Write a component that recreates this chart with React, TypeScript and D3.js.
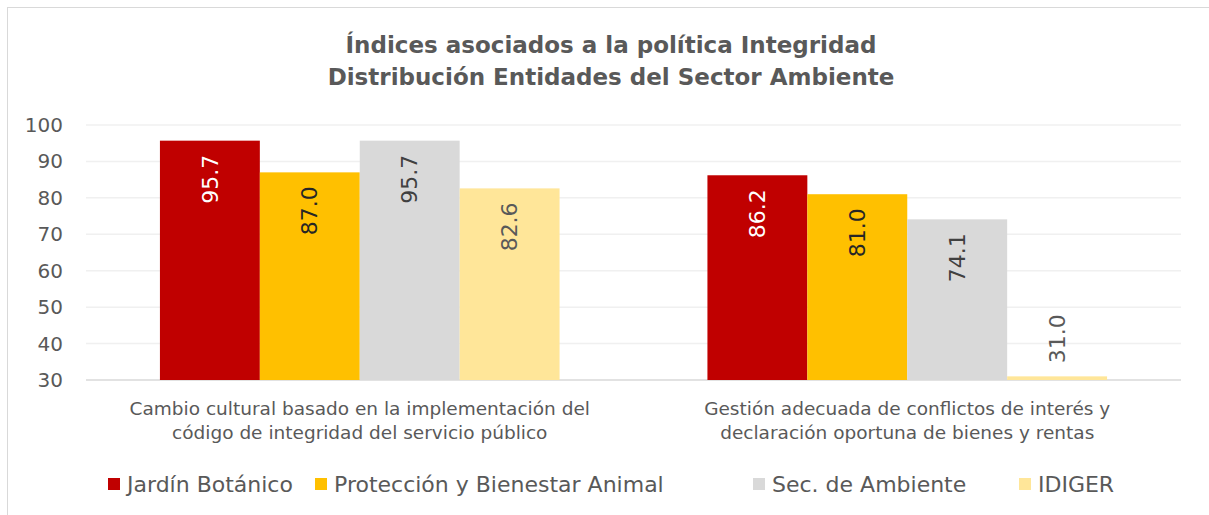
import React, { useEffect, useRef } from 'react';
import * as d3 from 'd3';

const titleLines = ['Índices asociados a la política Integridad', 'Distribución Entidades del Sector Ambiente'];
const categories = [
  ['Cambio cultural basado en la implementación del', 'código de integridad del servicio público'],
  ['Gestión adecuada de conflictos de interés y', 'declaración oportuna de bienes y rentas'],
];
const seriesNames = ['Jardín Botánico', 'Protección y Bienestar Animal', 'Sec. de Ambiente', 'IDIGER'];
const seriesColors = ['#c00000', '#ffc000', '#d9d9d9', '#ffe699'];
const labelColors = ['#ffffff', '#262626', '#404040', '#595959'];
const values = [
  [95.7, 87.0, 95.7, 82.6],
  [86.2, 81.0, 74.1, 31.0],
];
const yTicks = [30, 40, 50, 60, 70, 80, 90, 100];
const legendX = [108, 315, 753, 1019];

const FONT = "'DejaVu Sans', sans-serif";

export default function App() {
  const ref = useRef<SVGSVGElement>(null);

  useEffect(() => {
    const W = 1209, H = 515;
    const m = { top: 125, right: 28, bottom: 135, left: 86 };
    const svg = d3.select(ref.current);
    svg.selectAll('*').remove();

    // frame
    svg.append('rect')
      .attr('x', 7.5).attr('y', 7.5)
      .attr('width', W + 20).attr('height', H + 20)
      .attr('fill', '#fff').attr('stroke', '#d9d9d9');

    const y = d3.scaleLinear().domain([30, 100]).range([H - m.bottom, m.top]);
    const x0 = d3.scaleBand().domain(['0', '1']).range([m.left, W - m.right]);
    const x1 = d3.scaleBand().domain(['0', '1', '2', '3'])
      .range([0, x0.bandwidth()]).paddingInner(0).paddingOuter(0.74);

    // grid
    svg.append('g').selectAll('line').data(yTicks).enter().append('line')
      .attr('x1', m.left).attr('x2', W - m.right)
      .attr('y1', d => y(d)).attr('y2', d => y(d))
      .attr('stroke', d => d === 30 ? '#d9d9d9' : '#f0f0f0')
      .attr('stroke-width', 1.5);

    svg.append('g').selectAll('text').data(yTicks).enter().append('text')
      .attr('x', 63).attr('y', d => y(d)).attr('dy', '0.35em')
      .attr('text-anchor', 'end')
      .attr('font-family', FONT).attr('font-size', 20).attr('fill', '#595959')
      .text(d => d);

    // bars
    values.forEach((row, ci) => {
      const g = svg.append('g').attr('transform', `translate(${x0(String(ci))},0)`);
      row.forEach((v, si) => {
        const bx = x1(String(si))!;
        const bw = x1.bandwidth();
        g.append('rect')
          .attr('x', bx).attr('y', y(v))
          .attr('width', bw).attr('height', y(30) - y(v))
          .attr('fill', seriesColors[si]);
        const small = y(30) - y(v) < 60;
        const cx = bx + bw / 2;
        const ly = small ? y(v) - 13 : y(v) + 14;
        g.append('text')
          .attr('transform', `translate(${cx},${ly}) rotate(-90)`)
          .attr('text-anchor', small ? 'start' : 'end')
          .attr('dy', '0.35em')
          .attr('font-family', FONT).attr('font-size', 22)
          .attr('fill', small ? '#595959' : labelColors[si])
          .text(v.toFixed(1));
      });
      // category label
      categories[ci].forEach((line, li) => {
        svg.append('text')
          .attr('x', x0(String(ci))! + x0.bandwidth() / 2)
          .attr('y', 409 + li * 24).attr('dy', '0.35em')
          .attr('text-anchor', 'middle')
          .attr('font-family', FONT).attr('font-size', 18.5).attr('fill', '#595959')
          .text(line);
      });
    });

    // title
    titleLines.forEach((t, i) => {
      svg.append('text')
        .attr('x', 611).attr('y', 45 + i * 32).attr('dy', '0.35em')
        .attr('text-anchor', 'middle')
        .attr('font-family', FONT).attr('font-weight', 'bold')
        .attr('font-size', 23).attr('fill', '#595959')
        .text(t);
    });

    // legend
    seriesNames.forEach((s, i) => {
      svg.append('rect')
        .attr('x', legendX[i]).attr('y', 478)
        .attr('width', 12).attr('height', 12)
        .attr('fill', seriesColors[i]);
      svg.append('text')
        .attr('x', legendX[i] + 19).attr('y', 484).attr('dy', '0.35em')
        .attr('font-family', FONT).attr('font-size', 22).attr('fill', '#595959')
        .text(s);
    });
  }, []);

  return (
    <svg ref={ref} width={1209} height={515}
      style={{ position: 'absolute', left: 0, top: 0 }} />
  );
}
